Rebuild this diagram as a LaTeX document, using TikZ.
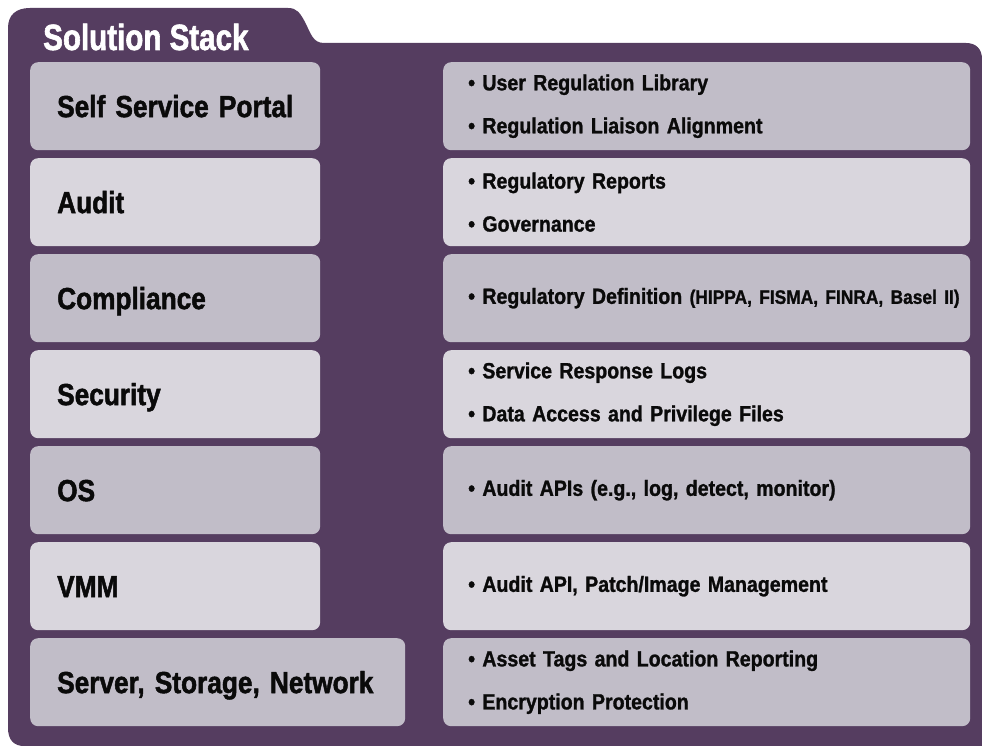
\documentclass[tikz,border=0pt]{standalone}
\usepackage{fontspec}
\setmainfont{Liberation Sans}[FakeStretch=0.86, BoldFeatures={FakeBold=1.6}]
\newfontfamily\detailfont{Liberation Sans}[FakeStretch=0.89, BoldFeatures={FakeBold=1.2}]
\newfontfamily\titlefont{Liberation Sans}[FakeStretch=0.81, BoldFeatures={FakeBold=1.6}]
\definecolor{stackpurple}{HTML}{553D60}
\definecolor{boxdark}{HTML}{C1BDC8}
\definecolor{boxlight}{HTML}{D9D6DD}
\definecolor{inktext}{HTML}{0A0A0A}
\tikzset{
  layerbox/.style={rounded corners=8pt, anchor=north west, minimum height=88pt,
    inner xsep=27pt, inner ysep=0pt, align=left, text=inktext,
    font=\bfseries\fontsize{30.5}{33}\selectfont, text height=21.8pt, text depth=0pt},
  detailbox/.style={rounded corners=8pt, anchor=north west, minimum height=88pt,
    text width=477pt, inner xsep=25pt, inner ysep=0pt, align=left, text=inktext,
    font=\detailfont\bfseries\fontsize{22}{43}\selectfont},
  darkfill/.style={fill=boxdark},
  lightfill/.style={fill=boxlight},
  titletext/.style={anchor=base west, inner sep=0pt, text=white,
    font=\titlefont\bfseries\fontsize{36.5}{39}\selectfont}
}
\begin{document}
\begin{tikzpicture}[x=1pt,y=-1pt]
\useasboundingbox (0,0) rectangle (982,746);
\fill[white] (0,0) rectangle (982,746);
% purple folder shape
\fill[stackpurple] (8,728) -- (8,28) .. controls (8,15) and (16,8) .. (30,8)
  -- (288,8) .. controls (297,8) and (300,13) .. (305,22)
  .. controls (311,34) and (313,43) .. (324,43)
  -- (966,43) .. controls (976,43) and (982,49) .. (982,59)
  -- (982,746) -- (24,746) .. controls (14,746) and (8,740) .. (8,728) -- cycle;
\node[titletext] (title) at (43,50) {Solution Stack};
% left layer boxes
\node[layerbox,darkfill,text width=236pt]  (l1) at (30,62)  {\mbox{Self Service Portal}};
\node[layerbox,lightfill,text width=236pt] (l2) at (30,158) {\mbox{Audit}};
\node[layerbox,darkfill,text width=236pt]  (l3) at (30,254) {\mbox{Compliance}};
\node[layerbox,lightfill,text width=236pt] (l4) at (30,350) {\mbox{Security}};
\node[layerbox,darkfill,text width=236pt]  (l5) at (30,446) {\mbox{OS}};
\node[layerbox,lightfill,text width=236pt] (l6) at (30,542) {\mbox{VMM}};
\node[layerbox,darkfill,text width=321pt]  (l7) at (30,638) {\mbox{Server, Storage, Network}};
% right detail boxes
\node[detailbox,darkfill]  (r1) at (443,62)  {• User Regulation Library\\• Regulation Liaison Alignment};
\node[detailbox,lightfill] (r2) at (443,158) {• Regulatory Reports\\• Governance};
\node[detailbox,darkfill]  (r3) at (443,254) {\mbox{• Regulatory Definition {\fontsize{19.5}{43}\selectfont (HIPPA, FISMA, FINRA, Basel II)}}};
\node[detailbox,lightfill] (r4) at (443,350) {• Service Response Logs\\• Data Access and Privilege Files};
\node[detailbox,darkfill]  (r5) at (443,446) {• Audit APIs (e.g., log, detect, monitor)};
\node[detailbox,lightfill] (r6) at (443,542) {• Audit API, Patch/Image Management};
\node[detailbox,darkfill]  (r7) at (443,638) {• Asset Tags and Location Reporting\\• Encryption Protection};
\end{tikzpicture}
\end{document}
